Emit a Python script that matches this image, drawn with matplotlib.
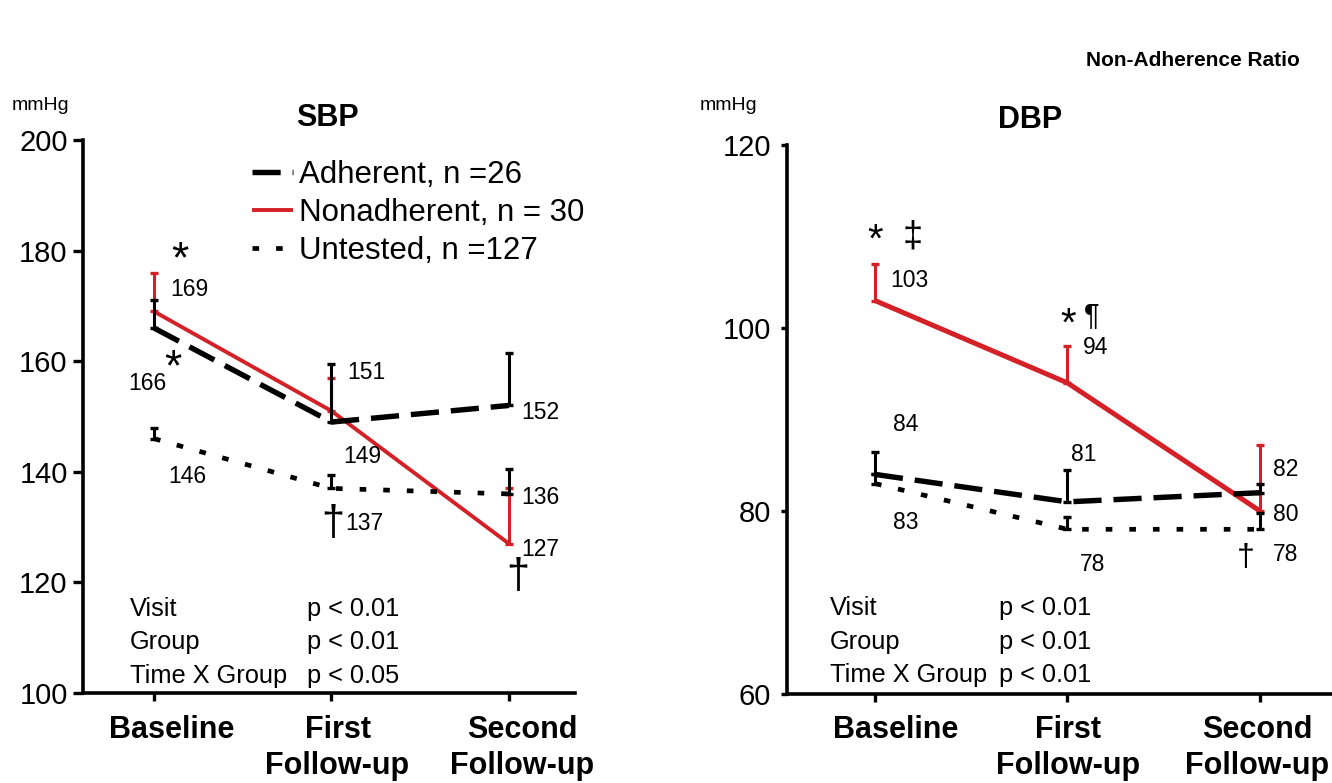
"""SBP / DBP by visit for adherent, nonadherent and untested patients."""

import matplotlib
matplotlib.use("Agg")
import matplotlib.pyplot as plt

plt.rcParams["font.family"] = ["Liberation Sans", "DejaVu Sans"]

visits = [("Baseline",), ("First", "Follow-up"), ("Second", "Follow-up")]
x = [0, 1, 2]

# systolic
sbp_adherent = [166, 149, 152]
sbp_adherent_top = [171, 159.5, 161.5]
sbp_nonadherent = [169, 151, 127]
sbp_nonadherent_top = [176, 157, 137]
sbp_untested = [146, 137, 136]
sbp_untested_top = [148, 139.5, 140.5]

# diastolic
dbp_adherent = [84, 81, 82]
dbp_adherent_top = [86.4, 84.5, 83]
dbp_nonadherent = [103, 94, 80]
dbp_nonadherent_top = [107, 98, 87.2]
dbp_untested = [83, 78, 78]
dbp_untested_top = [84, 79.3, 79.8]

legend_labels = ["Adherent, n =26", "Nonadherent, n = 30", "Untested, n =127"]
stats_names = "Visit\nGroup\nTime X Group"
sbp_stats = "p < 0.01\np < 0.01\np < 0.05"
dbp_stats = "p < 0.01\np < 0.01\np < 0.01"

RED = "#d42027"
W, H = 1332, 783


def draw_group(ax, y, top, color, style, lw, z):
    up = [t - v for t, v in zip(top, y)]
    ax.errorbar(x, y, yerr=[[0, 0, 0], up], fmt="none", ecolor=color,
                elinewidth=2.2, capsize=3, capthick=2.4, zorder=z)
    line, = ax.plot(x, y, color=color, lw=lw, zorder=z,
                    solid_capstyle="butt", dash_capstyle="butt")
    if style == "dash":
        line.set_dashes([5.2, 2.2])
    elif style == "dot":
        line.set_dashes([1.4, 3.6])
    return line


def setup_axes(ax, ylim, yticks, xlim, ytick_len, ypad, label_x, label_y):
    ax.set_ylim(*ylim)
    ax.set_xlim(*xlim)
    ax.set_yticks(yticks)
    ax.set_xticks(x)
    ax.set_xticklabels([])
    ax.tick_params(axis="y", labelsize=21, width=2.4, length=ytick_len, pad=ypad)
    ax.tick_params(axis="x", width=2.4, length=6)
    for s in ("top", "right"):
        ax.spines[s].set_visible(False)
    for s in ("left", "bottom"):
        ax.spines[s].set_linewidth(2.6)
    # bold category names, one text per line, under each tick
    tr = ax.get_xaxis_transform()
    for xx, lines in zip(label_x, visits):
        for ly, line in zip(label_y, lines):
            ax.text(xx, ly, line, transform=tr, fontsize=22, fontweight="bold",
                    ha="center", va="center", clip_on=False)


fig = plt.figure(figsize=(W / 100, H / 100), dpi=100)
ax1 = fig.add_axes([83 / W, 1 - 693 / H, (575 - 83) / W, (693 - 140) / H])
ax2 = fig.add_axes([787 / W, 1 - 694 / H, (W - 787) / W, (694 - 145) / H])

fs = 16.5

# ---- SBP
setup_axes(ax1, (100, 200), [100, 120, 140, 160, 180, 200], (-0.40, 2.372),
           7, 4, [0.101, 1.034, 2.073],
           [(693 - 730) / 553, (693 - 766) / 553])
h_ad = draw_group(ax1, sbp_adherent, sbp_adherent_top, "black", "dash", 3.9, 3)
h_non = draw_group(ax1, sbp_nonadherent, sbp_nonadherent_top, RED, "solid", 2.8, 2)
h_un = draw_group(ax1, sbp_untested, sbp_untested_top, "black", "dot", 3.4, 3)

for xx, yy, t in [(0.09, 172.9, "169"), (1.09, 157.9, "151"), (2.07, 150.8, "152"),
                  (1.065, 142.7, "149"), (0.08, 139.1, "146"), (1.076, 130.7, "137"),
                  (2.07, 135.3, "136"), (2.07, 125.9, "127")]:
    ax1.text(xx, yy, t, fontsize=fs, ha="left", va="center")
ax1.text(-0.04, 156, "166", fontsize=fs, ha="center", va="center")
ax1.text(0.146, 178.2, "*", fontsize=32, ha="center", va="center")
ax1.text(0.107, 158.7, "*", fontsize=32, ha="center", va="center")
ax1.text(1.008, 130.5, "†", fontsize=30, ha="center", va="center")
ax1.text(2.05, 121, "†", fontsize=30, ha="center", va="center")

ax1.text(-0.135, 109.2, stats_names, fontsize=18.3, ha="left", va="center",
         linespacing=1.5)
ax1.text(0.862, 109.2, sbp_stats, fontsize=18.3, ha="left", va="center",
         linespacing=1.5)

ax1.text(0.975, 204, "SBP", fontsize=22, fontweight="bold", ha="center",
         va="center")
fig.text(12 / W, 1 - 105 / H, "mmHg", fontsize=14, ha="left", va="center")

fig.legend([h_ad, h_non, h_un], legend_labels, loc="upper left",
           bbox_to_anchor=(252 / W, 1 - 160 / H), frameon=False, fontsize=22.5,
           handlelength=1.3, handletextpad=0.2, labelspacing=0.25,
           borderpad=0, borderaxespad=0)

# ---- DBP
setup_axes(ax2, (60, 120), [60, 80, 100, 120], (-0.457, 2.374), 4.5, 7,
           [0.109, 1.005, 1.984],
           [(694 - 730) / 549, (694 - 766) / 549])
draw_group(ax2, dbp_adherent, dbp_adherent_top, "black", "dash", 3.9, 3)
draw_group(ax2, dbp_nonadherent, dbp_nonadherent_top, RED, "solid", 3.6, 2)
draw_group(ax2, dbp_untested, dbp_untested_top, "black", "dot", 3.4, 3)

for xx, yy, t in [(0.078, 105.2, "103"), (1.08, 97.9, "94"), (0.094, 89.4, "84"),
                  (0.094, 78.7, "83"), (1.018, 86.2, "81"), (1.065, 74.1, "78"),
                  (2.068, 84.5, "82"), (2.068, 79.6, "80"), (2.068, 75.2, "78")]:
    ax2.text(xx, yy, t, fontsize=fs, ha="left", va="center")
ax2.text(0.0, 109.6, "*", fontsize=29, ha="center", va="center")
ax2.text(0.197, 109.9, "‡", fontsize=26, ha="center", va="center")
ax2.text(1.003, 100.4, "*", fontsize=29, ha="center", va="center")
ax2.text(1.127, 101.4, "¶", fontsize=21, ha="center", va="center")
ax2.text(1.927, 74.9, "†", fontsize=23, ha="center", va="center")

ax2.text(-0.234, 65.7, stats_names, fontsize=18.3, ha="left", va="center",
         linespacing=1.5)
ax2.text(0.644, 65.7, dbp_stats, fontsize=18.3, ha="left", va="center",
         linespacing=1.5)

ax2.text(0.805, 122.7, "DBP", fontsize=22, fontweight="bold", ha="center",
         va="center")
fig.text(700 / W, 1 - 105 / H, "mmHg", fontsize=14, ha="left", va="center")
fig.text(1300 / W, 1 - 60 / H, "Non-Adherence Ratio", fontsize=15,
         fontweight="bold", ha="right", va="center")

fig.savefig("out.png", dpi=100)
